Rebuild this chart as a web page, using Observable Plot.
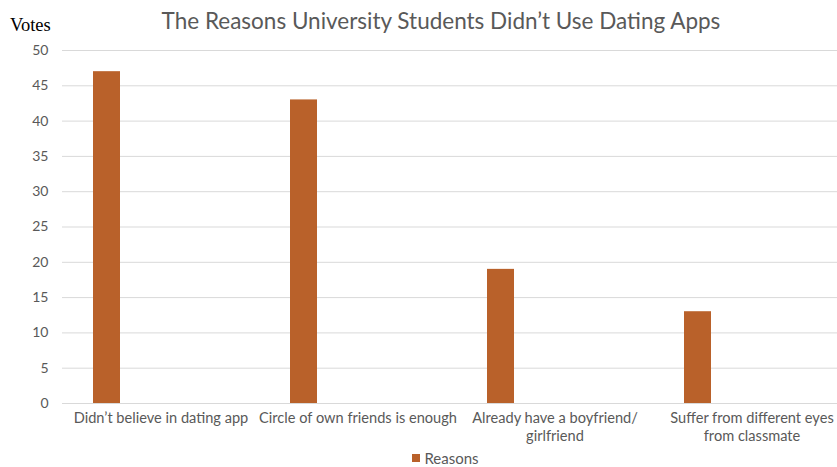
<!DOCTYPE html>
<html>
<head>
<meta charset="utf-8">
<script src="https://cdn.jsdelivr.net/npm/d3@7"></script>
<script src="https://cdn.jsdelivr.net/npm/@observablehq/plot@0.6"></script>
<style>
  html, body { margin: 0; padding: 0; background: #fff; overflow: hidden; }
  #wrap { width: 837px; height: 467px; position: relative; }
  #head { height: 38px; position: relative; }
  #title { position: absolute; left: 0; width: 837px; top: 8px; text-align: center; padding-left: 45px; box-sizing: border-box;
           font-family: Lato, sans-serif; font-size: 22.5px; color: #595959; line-height: 26px; }
  #votes { position: absolute; left: 10px; top: 16px; font-family: "Liberation Serif", serif; font-size: 18.5px; color: #000; line-height: 19px; }
  #legend { height: 19px; display: flex; justify-content: center; align-items: center; padding-left: 54px; box-sizing: border-box;
            font-family: Lato, sans-serif; font-size: 15px; color: #595959; }
  #legend .sw { width: 8px; height: 8px; background: #b9612a; margin-right: 4px; }
  svg.plot { max-width: none; }
</style>
</head>
<body>
<div id="wrap">
  <div id="head">
    <div id="votes">Votes</div>
    <div id="title">The Reasons University Students Didn’t Use Dating Apps</div>
  </div>
  <div id="chart"></div>
  <div id="legend"><div class="sw"></div><span id="legtext"></span></div>
</div>
<script>
const reasons = [
  "Didn’t believe in dating app",
  "Circle of own friends is enough",
  "Already have a boyfriend/\ngirlfriend",
  "Suffer from different eyes\nfrom classmate"
];
const votes = [47, 43, 19, 13];
const yTicks = [0, 5, 10, 15, 20, 25, 30, 35, 40, 45, 50];
const seriesName = "Reasons";
const barColor = "#b9612a";

const data = reasons.map((r, i) => ({reason: r, votes: votes[i]}));
document.getElementById("legtext").textContent = seriesName;

const chart = Plot.plot({
  width: 837,
  height: 410,
  marginTop: 12,
  marginBottom: 45,
  marginLeft: 62,
  marginRight: -13,
  style: {fontFamily: "Lato, sans-serif", fontSize: "12px", color: "#595959", background: "#fff"},
  x: {type: "band", domain: reasons, padding: 0, label: null},
  y: {domain: [0, 50], label: null},
  marks: [
    Plot.gridY(yTicks, {stroke: "#d9d9d9", strokeOpacity: 1, strokeWidth: 1}),
    Plot.barY(data, {x: "reason", y: "votes", fill: barColor, insetLeft: 31, insetRight: 139}),
    Plot.axisY(yTicks, {tickSize: 0, tickPadding: 14, fontSize: 14, fill: "#595959", label: null}),
    Plot.axisX({tickSize: 0, tickPadding: 7, fontSize: 14.6, lineHeight: 1.23, fill: "#595959", label: null})
  ]
});
document.getElementById("chart").appendChild(chart);
</script>
</body>
</html>
